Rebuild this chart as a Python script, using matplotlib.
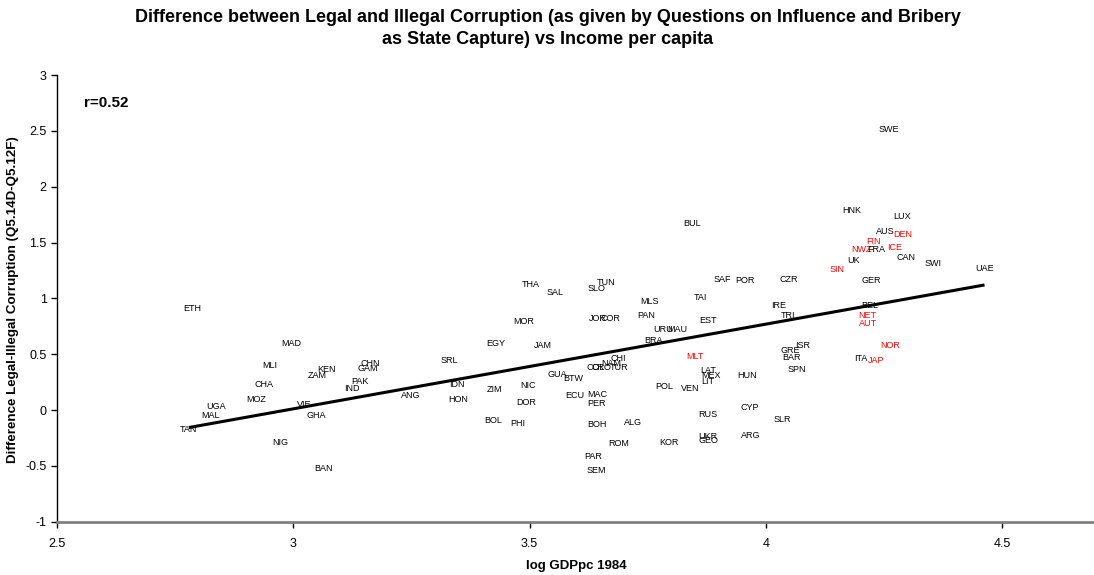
import numpy as np
import matplotlib
matplotlib.use("Agg")
import matplotlib.pyplot as plt

plt.rcParams['font.family'] = ['Liberation Sans', 'DejaVu Sans']

codes = ["ETH", "MAD", "MLI", "KEN", "ZAM", "CHN", "GAM", "PAK", "IND", "CHA",
         "MOZ", "VIE", "GHA", "UGA", "MAL", "TAN", "NIG", "BAN", "SRL", "ANG",
         "IDN", "HON", "THA", "SAL", "SLO", "TUN", "MOR", "JOR", "COR", "MLS",
         "PAN", "TAI", "SAF", "EST", "URU", "MAU", "BRA", "EGY", "JAM", "CHI",
         "COL", "CRO", "NAM", "TUR", "GUA", "BTW", "NIC", "ZIM", "DOR", "ECU",
         "MAC", "PER", "BOL", "PHI", "BOH", "ALG", "ROM", "KOR", "PAR", "SEM",
         "MLT", "POL", "VEN", "LAT", "MEX", "LIT", "RUS", "UKR", "GEO", "BUL",
         "HNK", "LUX", "AUS", "DEN", "FIN", "NWZ", "FRA", "ICE", "CAN", "UK",
         "SIN", "GER", "CZR", "POR", "IRE", "TRI", "BEL", "NET", "AUT", "NOR",
         "ITA", "JAP", "GRE", "ISR", "BAR", "SPN", "HUN", "CYP", "SLR", "ARG",
         "SWE", "SWI", "UAE"]

log_gdp = [2.786, 2.995, 2.951, 3.071, 3.050, 3.162, 3.158, 3.141, 3.124, 2.938,
           2.921, 3.023, 3.048, 2.836, 2.824, 2.779, 2.972, 3.065, 3.330, 3.249,
           3.347, 3.349, 3.503, 3.555, 3.642, 3.663, 3.487, 3.644, 3.671, 3.754,
           3.748, 3.861, 3.907, 3.878, 3.782, 3.813, 3.762, 3.429, 3.529, 3.688,
           3.640, 3.652, 3.674, 3.690, 3.558, 3.593, 3.497, 3.425, 3.494, 3.596,
           3.644, 3.642, 3.423, 3.476, 3.642, 3.720, 3.688, 3.796, 3.635, 3.642,
           3.850, 3.785, 3.841, 3.878, 3.885, 3.878, 3.878, 3.878, 3.878, 3.845,
           4.183, 4.289, 4.252, 4.289, 4.228, 4.203, 4.233, 4.272, 4.296, 4.185,
           4.150, 4.224, 4.049, 3.955, 4.027, 4.048, 4.221, 4.214, 4.216, 4.264,
           4.201, 4.233, 4.051, 4.077, 4.055, 4.066, 3.961, 3.967, 4.035, 3.968,
           4.261, 4.355, 4.463]

diff = [0.913, 0.600, 0.403, 0.367, 0.313, 0.420, 0.376, 0.251, 0.197, 0.233,
        0.090, 0.045, -0.045, 0.036, -0.045, -0.170, -0.295, -0.528, 0.439, 0.134,
        0.233, 0.098, 1.128, 1.054, 1.089, 1.140, 0.790, 0.820, 0.820, 0.970,
        0.842, 1.009, 1.170, 0.800, 0.725, 0.725, 0.627, 0.597, 0.576, 0.463,
        0.385, 0.385, 0.420, 0.385, 0.320, 0.278, 0.224, 0.185, 0.065, 0.128,
        0.137, 0.054, -0.092, -0.125, -0.134, -0.113, -0.304, -0.292, -0.418, -0.546,
        0.477, 0.215, 0.194, 0.358, 0.307, 0.251, -0.038, -0.233, -0.271, 1.671,
        1.784, 1.737, 1.596, 1.576, 1.513, 1.439, 1.439, 1.459, 1.364, 1.337,
        1.260, 1.164, 1.173, 1.164, 0.940, 0.842, 0.937, 0.850, 0.776, 0.576,
        0.457, 0.439, 0.537, 0.582, 0.472, 0.364, 0.313, 0.021, -0.081, -0.224,
        2.516, 1.313, 1.265]

red_codes = ["MLT", "DEN", "FIN", "NWZ", "ICE", "SIN", "NET", "AUT", "NOR", "JAP"]

x_ticks = [2.5, 3, 3.5, 4, 4.5]
x_tick_labels = ["2.5", "3", "3.5", "4", "4.5"]
y_ticks = [-1, -0.5, 0, 0.5, 1, 1.5, 2, 2.5, 3]
y_tick_labels = ["-1", "-0.5", "0", "0.5", "1", "1.5", "2", "2.5", "3"]

fig = plt.figure(figsize=(10.94, 5.75), dpi=100)
ax = fig.add_axes([57 / 1094, 53.3 / 575, 1037 / 1094, 446.7 / 575])

for c, xv, yv in zip(codes, log_gdp, diff):
    ax.text(xv, yv, c, fontsize=6.5, ha='center', va='center',
            color='red' if c in red_codes else 'black')

xa = np.array(log_gdp)
ya = np.array(diff)
slope, intercept = np.polyfit(xa, ya, 1)
xl = np.array([xa.min(), xa.max()])
ax.plot(xl, slope * xl + intercept, color='black', lw=2.2, solid_capstyle='butt')

ax.set_xlim(2.5, 2.5 + 1037 / 472.5)
ax.set_ylim(-1, 3)
ax.set_xticks(x_ticks)
ax.set_xticklabels(x_tick_labels)
ax.set_yticks(y_ticks)
ax.set_yticklabels(y_tick_labels)
ax.tick_params(axis='both', direction='out', length=4, labelsize=9, width=1)
ax.tick_params(axis='x', pad=8)

for s in ['top', 'right']:
    ax.spines[s].set_visible(False)
ax.spines['left'].set_color('black')
ax.spines['left'].set_linewidth(1)
ax.spines['bottom'].set_color('#808080')
ax.spines['bottom'].set_linewidth(2)

ax.text(0.026, 0.937, "r=0.52", transform=ax.transAxes, fontsize=11,
        fontweight='bold', ha='left', va='center')

fig.text(548 / 1094, 1 - 17 / 575,
         "Difference between Legal and Illegal Corruption (as given by Questions on Influence and Bribery",
         fontsize=13, fontweight='bold', ha='center', va='center')
fig.text(548 / 1094, 1 - 40 / 575,
         "as State Capture) vs Income per capita",
         fontsize=13, fontweight='bold', ha='center', va='center')

fig.text(576 / 1094, 1 - 566 / 575, "log GDPpc 1984", fontsize=9.5,
         fontweight='bold', ha='center', va='center')
fig.text(13 / 1094, 1 - 300 / 575, "Difference Legal-Illegal Corruption (Q5.14D-Q5.12F)",
         fontsize=9.6, fontweight='bold', ha='center', va='center', rotation=90)

fig.savefig("out.png", dpi=100, facecolor='white')
